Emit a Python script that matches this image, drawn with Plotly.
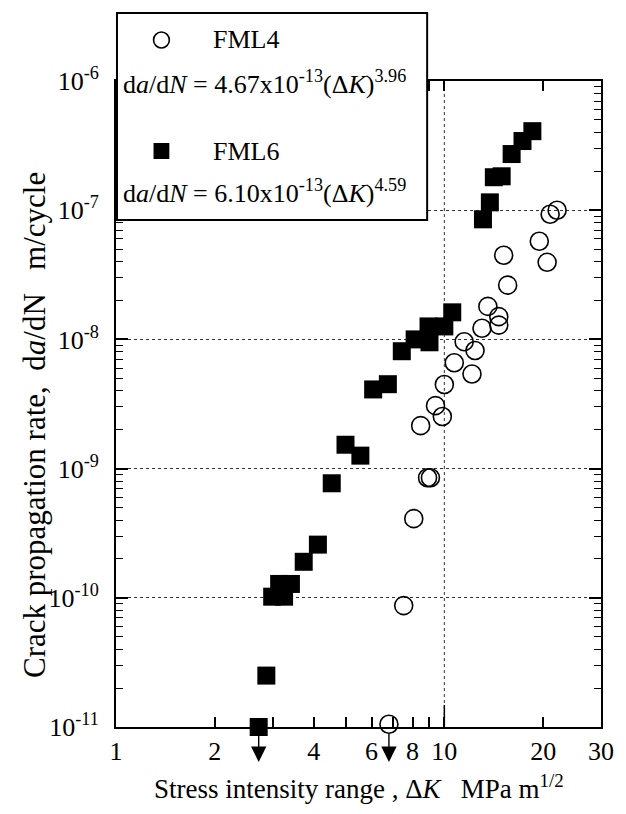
import numpy as np
import plotly.graph_objects as go

# ---- data ----
fml6_dk = [2.72, 2.87, 2.99, 3.25, 3.14, 3.41, 3.73, 4.12, 4.54, 5.0, 5.55, 6.07, 6.73,
           7.42, 8.12, 8.95, 9.01, 10.0, 10.57, 13.11, 13.76, 14.15, 14.95, 16.03, 17.3, 18.54]
fml6_rate = [1.0e-11, 2.5e-11, 1.02e-10, 1.02e-10, 1.28e-10, 1.28e-10, 1.9e-10, 2.58e-10,
             7.7e-10, 1.53e-9, 1.26e-9, 4.1e-9, 4.5e-9, 8.1e-9, 1.0e-8, 1.26e-8, 9.5e-9,
             1.26e-8, 1.62e-8, 8.5e-8, 1.15e-7, 1.8e-7, 1.83e-7, 2.72e-7, 3.43e-7, 4.09e-7]

fml4_dk = [6.78, 7.52, 8.07, 8.89, 9.07, 8.47, 9.86, 9.4, 10.0, 12.14, 10.72, 12.4, 11.49,
           13.02, 14.65, 14.65, 13.57, 15.59, 15.16, 20.56, 19.46, 21.0, 22.05]
fml4_rate = [1.05e-11, 8.7e-11, 4.1e-10, 8.5e-10, 8.5e-10, 2.15e-9, 2.53e-9, 3.07e-9, 4.48e-9,
             5.4e-9, 6.6e-9, 8.2e-9, 9.6e-9, 1.22e-8, 1.29e-8, 1.5e-8, 1.8e-8, 2.63e-8,
             4.48e-8, 3.95e-8, 5.75e-8, 9.3e-8, 1.0e-7]

# points below detection (arrows)
arrow_dk = [fml6_dk[0], fml4_dk[0]]

x_tickvals = [1, 2, 4, 6, 8, 10, 20, 30]
x_ticktext = ["1", "2", "4", "6", "8", "10", "20", "30"]
x_minor = [3, 5, 7, 9]
y_exps = [-11, -10, -9, -8, -7, -6]
y_tickvals = [10.0 ** e for e in y_exps]
y_ticktext = ["10<sup>%d</sup>" % e for e in y_exps]
y_minor = [m * 10.0 ** e for e in y_exps[:-1] for m in range(2, 10)]

legend_name4 = "FML4"
legend_name6 = "FML6"
eq4 = "d<i>a</i>/d<i>N</i> = 4.67x10<sup>-13</sup>(Δ<i>K</i>)<sup>3.96</sup>"
eq6 = "d<i>a</i>/d<i>N</i> = 6.10x10<sup>-13</sup>(Δ<i>K</i>)<sup>4.59</sup>"

FONT = "Liberation Serif, Times New Roman, DejaVu Serif, serif"

fig = go.Figure()
fig.add_trace(go.Scatter(x=fml4_dk, y=fml4_rate, mode="markers", cliponaxis=False,
                         marker=dict(symbol="circle-open", size=18, color="black",
                                     line=dict(width=1.6, color="black")),
                         showlegend=False))
fig.add_trace(go.Scatter(x=fml6_dk, y=fml6_rate, mode="markers", cliponaxis=False,
                         marker=dict(symbol="square", size=18, color="black",
                                     line=dict(width=0)),
                         showlegend=False))

W, H = 626, 814
L, R, T, B = 116, 19, 81, 87
pw, ph = W - L - R, H - T - B

def px(xp):
    return (xp - L) / pw

def py(yp):
    return (H - B - yp) / ph

shapes = []
# dotted grid at x = 10
shapes.append(dict(type="line", xref="x", yref="paper", x0=10, x1=10, y0=0, y1=1,
                   line=dict(color="#333", width=1, dash="dot"), layer="below"))
# long tick at 10
shapes.append(dict(type="line", xref="x", yref="paper", x0=10, x1=10, y0=0, y1=22 / ph,
                   line=dict(color="black", width=1.5), layer="above"))
# legend box
shapes.append(dict(type="rect", xref="paper", yref="paper",
                   x0=px(117), x1=px(431), y0=py(220), y1=py(13),
                   fillcolor="white", line=dict(color="black", width=2), layer="above"))
# legend symbols
r = 8
shapes.append(dict(type="circle", xref="paper", yref="paper",
                   x0=px(162 - r), x1=px(162 + r), y0=py(40 + r), y1=py(40 - r),
                   line=dict(color="black", width=1.6), fillcolor="white", layer="above"))
shapes.append(dict(type="rect", xref="paper", yref="paper",
                   x0=px(162 - r), x1=px(162 + r), y0=py(151 + r), y1=py(151 - r),
                   line=dict(color="black", width=0), fillcolor="black", layer="above"))

ann = []
ann.append(dict(text=legend_name4, xref="paper", yref="paper", x=px(212), y=py(40),
                xanchor="left", yanchor="middle", showarrow=False,
                font=dict(family=FONT, size=26, color="black")))
ann.append(dict(text=eq4, xref="paper", yref="paper", x=px(121), y=py(101),
                xanchor="left", yanchor="bottom", showarrow=False,
                font=dict(family=FONT, size=26, color="black")))
ann.append(dict(text=legend_name6, xref="paper", yref="paper", x=px(212), y=py(151),
                xanchor="left", yanchor="middle", showarrow=False,
                font=dict(family=FONT, size=26, color="black")))
ann.append(dict(text=eq6, xref="paper", yref="paper", x=px(121), y=py(210),
                xanchor="left", yanchor="bottom", showarrow=False,
                font=dict(family=FONT, size=26, color="black")))
# arrows (rate below detection)
for v in arrow_dk:
    ann.append(dict(text="", xref="x", yref="paper", x=np.log10(v), y=py(762),
                    ax=0, ay=-30, showarrow=True, arrowhead=2, arrowsize=2.2,
                    arrowwidth=1.4, arrowcolor="black"))
# axis titles
ann.append(dict(text="Crack propagation rate,  d<i>a</i>/dN   m/cycle", xref="paper", yref="paper",
                x=px(34), y=py(425), textangle=-90, xanchor="center", yanchor="middle",
                showarrow=False, font=dict(family=FONT, size=31, color="black")))
ann.append(dict(text="Stress intensity range , Δ<i>K</i>   MPa m<sup>1/2</sup>",
                xref="paper", yref="paper", x=px(362), y=py(787), xanchor="center",
                yanchor="middle", showarrow=False,
                font=dict(family=FONT, size=27, color="black")))

axis_common = dict(showline=True, linecolor="black", linewidth=2, mirror="allticks",
                   ticks="inside", tickcolor="black", tickwidth=1.5, zeroline=False)

fig.update_layout(
    width=W, height=H, margin=dict(l=L, r=R, t=T, b=B),
    paper_bgcolor="white", plot_bgcolor="white",
    font=dict(family=FONT, color="black"),
    xaxis=dict(type="log", range=[0, np.log10(30)], tickmode="array",
               tickvals=x_tickvals, ticktext=x_ticktext, ticklen=10, showgrid=False,
               tickfont=dict(family=FONT, size=26, color="black"),
               minor=dict(tickmode="array", tickvals=x_minor, ticks="inside", ticklen=10,
                          tickwidth=1.5, tickcolor="black", showgrid=False),
               **axis_common),
    yaxis=dict(type="log", range=[-11, -6], tickmode="array",
               tickvals=y_tickvals, ticktext=y_ticktext, ticklen=12, showgrid=True,
               gridcolor="#333", griddash="dot", gridwidth=1, ticklabelstandoff=10,
               tickfont=dict(family=FONT, size=26, color="black"),
               minor=dict(tickmode="array", tickvals=y_minor, ticks="inside", ticklen=7,
                          tickwidth=1.2, tickcolor="black", showgrid=False),
               **axis_common),
    shapes=shapes, annotations=ann, showlegend=False,
)

fig.write_html("out.html")
